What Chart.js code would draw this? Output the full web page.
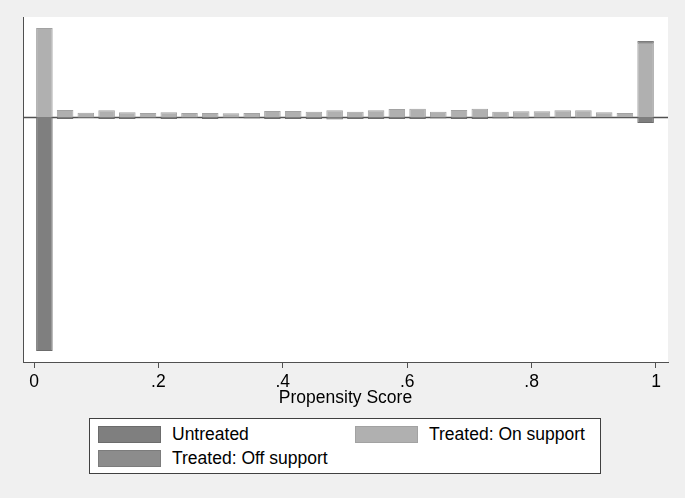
<!DOCTYPE html>
<html>
<head>
<meta charset="utf-8">
<script src="https://cdn.jsdelivr.net/npm/chart.js@4.4.0/dist/chart.umd.min.js"></script>
<style>
  html, body { margin: 0; padding: 0; background: #f0f0f0; }
  #wrap { position: relative; width: 685px; height: 498px; font-family: "Liberation Sans", Arial, sans-serif; }
  #legende { position: absolute; left: 89px; top: 418px; width: 510px; height: 54px; background: #fff; border: 1px solid #404040; }
  .item { position: absolute; font-size: 17.5px; color: #000; line-height: 20px; white-space: nowrap; }
  .caixa { position: absolute; width: 61px; height: 15px; }
</style>
</head>
<body>
<div id="wrap">
  <canvas id="grafico" width="685" height="498"></canvas>
  <div id="legende"></div>
</div>
<script>
// bin midpoints of the propensity score histogram (30 bins)
const centros = [0.0167, 0.05, 0.0833, 0.1167, 0.15, 0.1833, 0.2167, 0.25, 0.2833, 0.3167,
  0.35, 0.3833, 0.4167, 0.45, 0.4833, 0.5167, 0.55, 0.5833, 0.6167, 0.65,
  0.6833, 0.7167, 0.75, 0.7833, 0.8167, 0.85, 0.8833, 0.9167, 0.95, 0.9833];

// heights (arbitrary units, drawn mirrored around zero)
const naoTratados = [-234, -2, -1, -2, -2, -1, -2, -1, -2, -1,
  -1.5, -2, -2, -2, -2.5, -2, -2, -2, -2, -1.5,
  -2, -2, -1.5, -1.5, -1, -1, -1, -0.5, -0.5, -6];
const tratadosSuporte = [89, 7, 4.3, 6.7, 4.7, 4, 4.7, 4, 4, 3.7,
  4, 6, 6, 5.3, 6.7, 5.3, 6.7, 8, 8.3, 5.3,
  7, 8.3, 5.3, 5.7, 5.7, 6.7, 6.7, 4.7, 4, 74];
const tratadosFora = [0, 0, 0, 0, 0, 0, 0, 0, 0, 0,
  0, 0, 0, 0, 0, 0, 0, 0, 0, 0,
  0, 0, 0, 0, 0, 0, 0, 0, 0, 2];

const ticksX = [0, 0.2, 0.4, 0.6, 0.8, 1];
const rotulosX = ["0", ".2", ".4", ".6", ".8", "1"];

function pontos(valores) {
  return centros.map((c, i) => ({ x: c, y: valores[i] }));
}

const fundoPlot = {
  id: 'fundoPlot',
  beforeDraw(chart) {
    const { ctx, chartArea: a } = chart;
    ctx.save();
    ctx.fillStyle = '#ffffff';
    ctx.fillRect(a.left, a.top, a.right - a.left, a.bottom - a.top);
    ctx.restore();
  },
  beforeDatasetsDraw(chart) {
    const { ctx, chartArea: a } = chart;
    const y0 = Math.round(chart.scales.y.getPixelForValue(0)) + 0.5;
    ctx.save();
    ctx.strokeStyle = '#505050';
    ctx.lineWidth = 1.3;
    ctx.beginPath();
    ctx.moveTo(a.left, y0);
    ctx.lineTo(a.right, y0);
    ctx.stroke();
    ctx.restore();
  }
};

const fonte = { family: '"Liberation Sans", Arial, sans-serif', size: 17.5 };

const grafico = new Chart(document.getElementById('grafico').getContext('2d'), {
  type: 'bar',
  data: {
    datasets: [
      { label: 'Untreated', data: pontos(naoTratados), backgroundColor: '#7f7f7f', borderColor: '#6c6c6c', borderWidth: 1 },
      { label: 'Treated: On support', data: pontos(tratadosSuporte), backgroundColor: '#b0b0b0', borderColor: '#a2a2a2', borderWidth: 1 },
      { label: 'Treated: Off support', data: pontos(tratadosFora), backgroundColor: '#8c8c8c', borderColor: '#7c7c7c', borderWidth: 1 }
    ]
  },
  options: {
    responsive: false,
    animation: false,
    barPercentage: 0.8,
    categoryPercentage: 1,
    layout: { padding: { left: 0, top: 17, right: 17, bottom: 88 } },
    plugins: { legend: { display: false }, tooltip: { enabled: false } },
    scales: {
      x: {
        type: 'linear',
        min: -0.0177,
        max: 1.0193,
        stacked: true,
        offset: false,
        grid: { offset: false, drawOnChartArea: false, drawTicks: true, tickLength: 6, color: '#505050' },
        border: { display: true, color: '#505050', width: 1 },
        afterBuildTicks: (s) => { s.ticks = ticksX.map(v => ({ value: v })); },
        ticks: {
          font: fonte,
          color: '#000',
          padding: 4,
          maxRotation: 0,
          autoSkip: false,
          callback: (v) => rotulosX[ticksX.indexOf(v)]
        },
        title: { display: true, text: 'Propensity Score', font: fonte, color: '#000', padding: { top: 0, bottom: 1 } },
        afterFit: (s) => { s.height = 48; }
      },
      y: {
        min: -245,
        max: 100,
        stacked: true,
        grid: { display: false },
        border: { display: true, color: '#505050', width: 1 },
        ticks: { display: false },
        afterFit: (s) => { s.width = 23; }
      }
    }
  },
  plugins: [fundoPlot]
});

// legend drawn as html, laid out like the stata legend
const posicoes = [
  { x: 8, y: 7, tx: 82 },
  { x: 265, y: 7, tx: 339 },
  { x: 8, y: 31, tx: 82 }
];
const ordem = [0, 1, 2];
const legende = document.getElementById('legende');
ordem.forEach((d, k) => {
  const ds = grafico.data.datasets[d];
  const p = posicoes[k];
  const caixa = document.createElement('div');
  caixa.className = 'caixa';
  caixa.style.left = p.x + 'px';
  caixa.style.top = p.y + 'px';
  caixa.style.background = ds.backgroundColor;
  caixa.style.border = '1px solid ' + ds.borderColor;
  legende.appendChild(caixa);
  const txt = document.createElement('div');
  txt.className = 'item';
  txt.style.left = p.tx + 'px';
  txt.style.top = (p.y - 2) + 'px';
  txt.innerText = ds.label;
  legende.appendChild(txt);
});
</script>
</body>
</html>
